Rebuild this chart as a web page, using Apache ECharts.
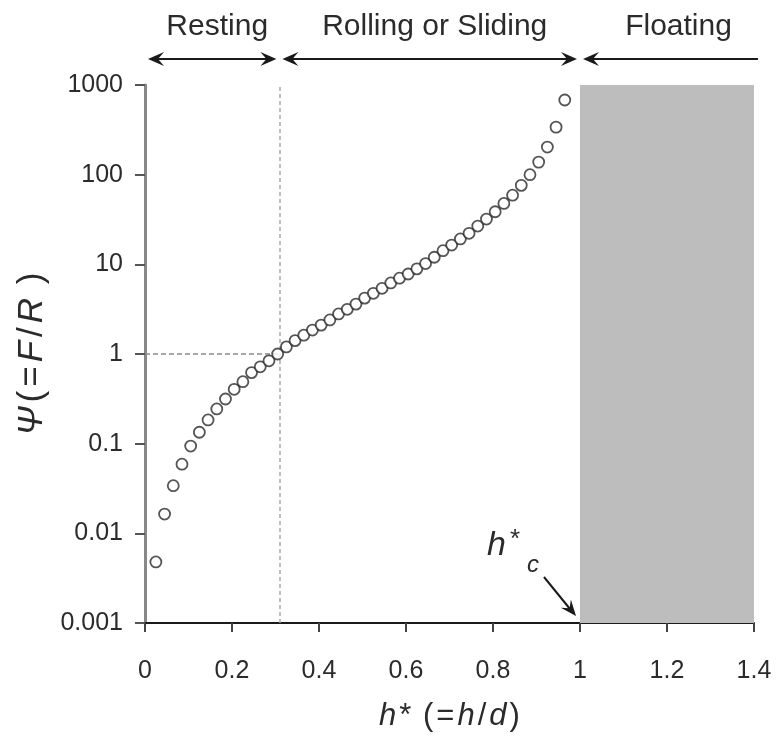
<!DOCTYPE html>
<html>
<head>
<meta charset="utf-8">
<script src="https://cdn.jsdelivr.net/npm/echarts@6/dist/echarts.min.js"></script>
<style>
  html, body { margin: 0; padding: 0; background: #fff; }
  #main { width: 778px; height: 737px; }
</style>
</head>
<body>
<div id="main"></div>
<script>
// h* (=h/d) values of the plotted points
const hStar = [
  0.025, 0.045, 0.065, 0.085, 0.105, 0.125, 0.145, 0.165, 0.185, 0.205,
  0.225, 0.245, 0.265, 0.285, 0.305, 0.325, 0.345, 0.365, 0.385, 0.405,
  0.425, 0.445, 0.465, 0.485, 0.505, 0.525, 0.545, 0.565, 0.585, 0.605,
  0.625, 0.645, 0.665, 0.685, 0.705, 0.725, 0.745, 0.765, 0.785, 0.805,
  0.825, 0.845, 0.865, 0.885, 0.905, 0.925, 0.945, 0.965
]
// Ψ (=F/R)
const psi = [
  0.0048, 0.0164, 0.034, 0.059, 0.094, 0.134, 0.184, 0.244, 0.315, 0.404,
  0.491, 0.62, 0.72, 0.84, 1.0, 1.2, 1.41, 1.62, 1.85, 2.1,
  2.4, 2.8, 3.15, 3.6, 4.2, 4.75, 5.4, 6.2, 7.0, 7.8,
  8.9, 10.2, 12.0, 14.2, 16.4, 19.2, 22.2, 26.7, 32, 38.6,
  47.8, 59, 76, 100, 138, 203, 339, 680
]
const xTicks = [0, 0.2, 0.4, 0.6, 0.8, 1, 1.2, 1.4]
const yTicks = [0.001, 0.01, 0.1, 1, 10, 100, 1000]
const hCrit = 1          // h*c, start of floating
const hRest = 0.309      // Ψ = 1 crossing
const regions = ['Resting', 'Rolling or Sliding', 'Floating']

const font = '"Liberation Sans", Arial, sans-serif'
const txt = '#2b2b2b'

const chart = echarts.init(document.getElementById('main'))

chart.setOption({
  animation: false,
  grid: { left: 145, right: 24, top: 85, bottom: 114 },
  xAxis: {
    type: 'value',
    min: xTicks[0],
    max: xTicks[xTicks.length - 1],
    interval: 0.2,
    splitLine: { show: false },
    axisLine: { lineStyle: { color: '#1a1a1a', width: 2 } },
    axisTick: { length: 9, lineStyle: { color: '#444', width: 2 } },
    axisLabel: { margin: 36, fontSize: 25, color: txt, fontFamily: font },
    name: '{i|h}{n|*}{s| }{n|(}{n|=}{i|h}{n|/}{i|d}{n|)}',
    nameLocation: 'middle',
    nameGap: 78,
    nameTextStyle: {
      rich: {
        i: { fontSize: 31, fontStyle: 'italic', color: txt, fontFamily: font, padding: [0, 1.5] },
        n: { fontSize: 31, color: txt, fontFamily: font, padding: [0, 1.5] },
        s: { fontSize: 31, color: txt, fontFamily: font }
      }
    }
  },
  yAxis: {
    type: 'log',
    logBase: 10,
    min: yTicks[0],
    max: yTicks[yTicks.length - 1],
    splitLine: { show: false },
    minorTick: { show: false },
    axisLine: { lineStyle: { color: '#888', width: 3 } },
    axisTick: { length: 10, lineStyle: { color: '#555', width: 2 } },
    axisLabel: {
      margin: 22, fontSize: 25, color: txt, fontFamily: font,
      formatter: v => String(+v.toPrecision(3))
    },
    name: '{i|Ψ}{n|(}{n|=}{i|F}{n|/}{i|R}{s| }{n|)}',
    nameLocation: 'middle',
    nameGap: 94,
    nameTextStyle: {
      rich: {
        i: { fontSize: 35, fontStyle: 'italic', color: txt, fontFamily: font, padding: [0, 2] },
        n: { fontSize: 35, color: txt, fontFamily: font, padding: [0, 2] },
        s: { fontSize: 35, color: txt, fontFamily: font }
      }
    }
  },
  series: [{
    type: 'scatter',
    data: hStar.map((h, i) => [h, psi[i]]),
    symbol: 'circle',
    symbolSize: 11,
    itemStyle: { color: '#fff', borderColor: '#2a2a2a', borderWidth: 1.8 },
    z: 5,
    markArea: {
      silent: true,
      itemStyle: { color: '#bdbdbd' },
      data: [[{ xAxis: hCrit }, { xAxis: xTicks[xTicks.length - 1] }]]
    },
    markLine: {
      silent: true,
      symbol: 'none',
      label: { show: false },
      data: [
        [{ coord: [hRest, yTicks[0]], lineStyle: { color: '#a8a8a8', type: [4, 3], width: 1.5 } },
         { coord: [hRest, yTicks[yTicks.length - 1]] }],
        [{ coord: [0, 1], lineStyle: { color: '#8a8a8a', type: [5, 3], width: 1.5 } },
         { coord: [hRest, 1] }]
      ]
    }
  }]
})

// annotations above the plot and the h*c pointer
function px(x, y) { return chart.convertToPixel({ gridIndex: 0 }, [x, y]) }

function head(tip, dir) {
  // stealth-like arrowhead; dir = +1 points right, -1 points left
  const [x, y] = tip
  const L = 16, W = 7, N = 10
  return {
    type: 'polygon',
    shape: { points: [[x, y], [x - dir * L, y - W], [x - dir * N, y], [x - dir * L, y + W]] },
    style: { fill: '#1a1a1a' }
  }
}

function hline(x1, x2, y) {
  return { type: 'line', shape: { x1, y1: y, x2, y2: y }, style: { stroke: '#1a1a1a', lineWidth: 2 } }
}

const gTop = px(0, yTicks[yTicks.length - 1])[1]
const ay = gTop - 26
const ty = gTop - 58
const xa = px(0, 1)[0] + 3
const xb = px(hRest, 1)[0] - 3
const xc = px(hRest, 1)[0] + 3
const xd = px(hCrit, 1)[0] - 3
const xe = px(hCrit, 1)[0] + 3
const xf = px(xTicks[xTicks.length - 1], 1)[0] + 4

const g = [
  hline(xa + 8, xb - 8, ay), head([xa, ay], -1), head([xb, ay], 1),
  hline(xc + 8, xd - 8, ay), head([xc, ay], -1), head([xd, ay], 1),
  hline(xe + 8, xf, ay), head([xe, ay], -1)
]
const centers = [(xa + xb) / 2 + 5, (xc + xd) / 2 + 5, (xe + xf) / 2 + 8]
regions.forEach((r, i) => g.push({
  type: 'text',
  style: {
    text: r, x: centers[i], y: ty, align: 'center', verticalAlign: 'middle',
    font: '30px ' + font, fill: txt
  }
}))

// h*c label with arrow to the bottom of the boundary
const corner = px(hCrit, yTicks[0])
g.push({ type: 'text', style: { text: 'h', x: corner[0] - 93, y: corner[1] - 94, font: 'italic 34px ' + font, fill: txt } })
g.push({ type: 'text', style: { text: '*', x: corner[0] - 70, y: corner[1] - 96, font: '26px ' + font, fill: txt } })
g.push({ type: 'text', style: { text: 'c', x: corner[0] - 53, y: corner[1] - 70, font: 'italic 24px ' + font, fill: txt } })
const p0 = [corner[0] - 36, corner[1] - 46]
const p1 = [corner[0] - 4, corner[1] - 7]
g.push({ type: 'line', shape: { x1: p0[0], y1: p0[1], x2: p1[0] - 6, y2: p1[1] - 7 }, style: { stroke: '#1a1a1a', lineWidth: 2 } })
{
  const ang = Math.atan2(p1[1] - p0[1], p1[0] - p0[0])
  const L = 16, W = 6.5, N = 10
  const c = Math.cos(ang), s = Math.sin(ang)
  const pt = (a, b) => [p1[0] - a * c + b * s, p1[1] - a * s - b * c]
  g.push({ type: 'polygon', shape: { points: [p1, pt(L, W), pt(N, 0), pt(L, -W)] }, style: { fill: '#1a1a1a' } })
}

chart.setOption({ graphic: g })
</script>
</body>
</html>
